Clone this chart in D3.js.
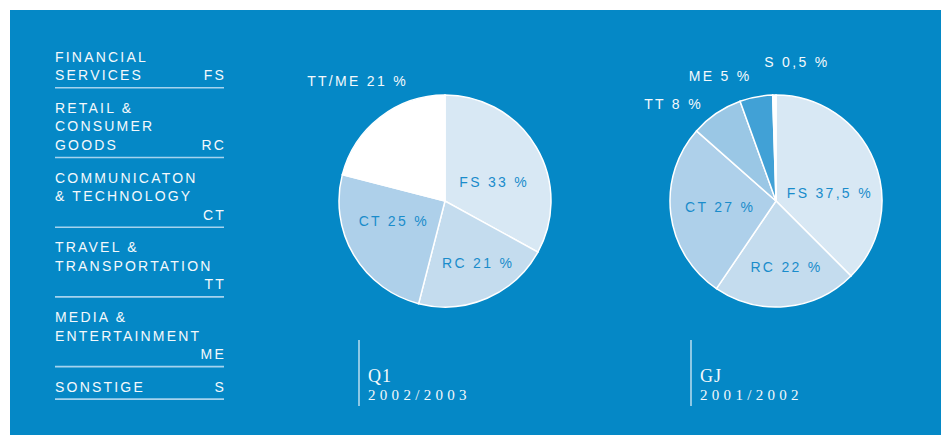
<!DOCTYPE html>
<html>
<head>
<meta charset="utf-8">
<script src="https://cdn.jsdelivr.net/npm/d3@7"></script>
<style>
  body { margin: 0; background: #fff; }
  text { font-family: "Liberation Sans", Arial, sans-serif; }
</style>
</head>
<body>
<div id="chart"></div>
<script>
// legend entries (last line carries the code)
var legendLines = [
  ["FINANCIAL", "SERVICES"],
  ["RETAIL &", "CONSUMER", "GOODS"],
  ["COMMUNICATON", "& TECHNOLOGY", ""],
  ["TRAVEL &", "TRANSPORTATION", ""],
  ["MEDIA &", "ENTERTAINMENT", ""],
  ["SONSTIGE"]
];
var legendCodes = ["FS", "RC", "CT", "TT", "ME", "S"];

// Q1 2002/2003
var q1Labels = ["FS 33 %", "RC 21 %", "CT 25 %", "TT/ME 21 %"];
var q1Values = [33, 21, 25, 21];
var q1Title = ["Q1", "2002/2003"];

// GJ 2001/2002
var gjLabels = ["FS 37,5 %", "RC 22 %", "CT 27 %", "TT 8 %", "ME 5 %", "S 0,5 %"];
var gjValues = [37.5, 22, 27, 8, 5, 0.5];
var gjTitle = ["GJ", "2001/2002"];

var W = 941, H = 435;
var bg = "#0588c6";

var svg = d3.select("#chart")
  .append("svg")
    .attr("width", W)
    .attr("height", H);

svg.append("rect")
  .attr("x", 10).attr("y", 10)
  .attr("width", W - 10).attr("height", H - 10)
  .attr("fill", bg);

// legend
var lineH = 18.6, ruleOff = 7.5, gap = 25;
var lx0 = 55, lx1 = 224;
var yy = 61.7;
var legend = svg.append("g");
legendLines.forEach(function(lines, i) {
  lines.forEach(function(t, j) {
    legend.append("text")
      .attr("x", lx0).attr("y", yy + j * lineH)
      .attr("fill", "#f4f9fc")
      .style("font-size", "14px")
      .style("letter-spacing", "2.2px")
      .text(t);
  });
  var last = yy + (lines.length - 1) * lineH;
  legend.append("text")
    .attr("x", lx1 + 2).attr("y", last)
    .attr("text-anchor", "end")
    .attr("fill", "#f4f9fc")
    .style("font-size", "14px")
    .style("letter-spacing", "2.2px")
    .text(legendCodes[i]);
  legend.append("line")
    .attr("x1", lx0).attr("x2", lx1)
    .attr("y1", last + ruleOff).attr("y2", last + ruleOff)
    .attr("stroke", "#a6d3ee")
    .attr("stroke-width", 1.6);
  yy = last + ruleOff + gap;
});

var r = 106;
var pie = d3.pie().sort(null).value(function(d) { return d; });
var arc = d3.arc().innerRadius(0).outerRadius(r);
var inArc = d3.arc().innerRadius(r * 0.55).outerRadius(r * 0.55);
var outArc = d3.arc().innerRadius(r * 1.3).outerRadius(r * 1.3);

// label nudges and which labels sit outside the pie
function drawPie(cx, values, labels, colors, outside, nudge, title, lineX) {
  var g = svg.append("g").attr("transform", "translate(" + cx + ",201)");
  var arcs = pie(values);
  g.selectAll("path")
    .data(arcs)
    .enter()
    .append("path")
      .attr("d", arc)
      .attr("fill", function(d, i) { return colors[i]; })
      .attr("stroke", "#fff")
      .attr("stroke-width", 1.5);
  g.selectAll("text.lab")
    .data(arcs)
    .enter()
    .append("text")
      .attr("class", "lab")
      .attr("transform", function(d, i) {
        var c = outside[i] ? outArc.centroid(d) : inArc.centroid(d);
        return "translate(" + (c[0] + nudge[i][0]) + "," + (c[1] + nudge[i][1] + 5) + ")";
      })
      .attr("text-anchor", "middle")
      .attr("fill", function(d, i) { return outside[i] ? "#f4f9fc" : "#1a8ccb"; })
      .style("font-size", "14px")
      .style("letter-spacing", "2.3px")
      .text(function(d, i) { return labels[i]; });

  // caption
  svg.append("line")
    .attr("x1", lineX).attr("x2", lineX)
    .attr("y1", 340).attr("y2", 406)
    .attr("stroke", "#e8f3fa")
    .attr("stroke-width", 1.2);
  svg.append("text")
    .attr("x", lineX + 9).attr("y", 382)
    .attr("fill", "#f4f9fc")
    .style("font-family", "'Liberation Serif', 'DejaVu Serif', serif")
    .style("font-size", "18px")
    .style("letter-spacing", "1px")
    .text(title[0]);
  svg.append("text")
    .attr("x", lineX + 9).attr("y", 400)
    .attr("fill", "#f4f9fc")
    .style("font-family", "'Liberation Serif', 'DejaVu Serif', serif")
    .style("font-size", "15px")
    .style("letter-spacing", "4.3px")
    .text(title[1]);
}

drawPie(445, q1Values, q1Labels,
  ["#d8e8f4", "#c4dcee", "#aed0ea", "#ffffff"],
  [false, false, false, true],
  [[-1, 11], [10, 8], [-1, -10], [-3, -11]],
  q1Title, 359);

drawPie(776, gjValues, gjLabels,
  ["#d8e8f4", "#c4dcee", "#aed0ea", "#9ac7e5", "#41a1d6", "#ffffff"],
  [false, false, false, true, true, true],
  [[0, 14], [5, 8], [2, -1], [-25, 17], [-30, 10], [23, -1]],
  gjTitle, 691);
</script>
</body>
</html>
